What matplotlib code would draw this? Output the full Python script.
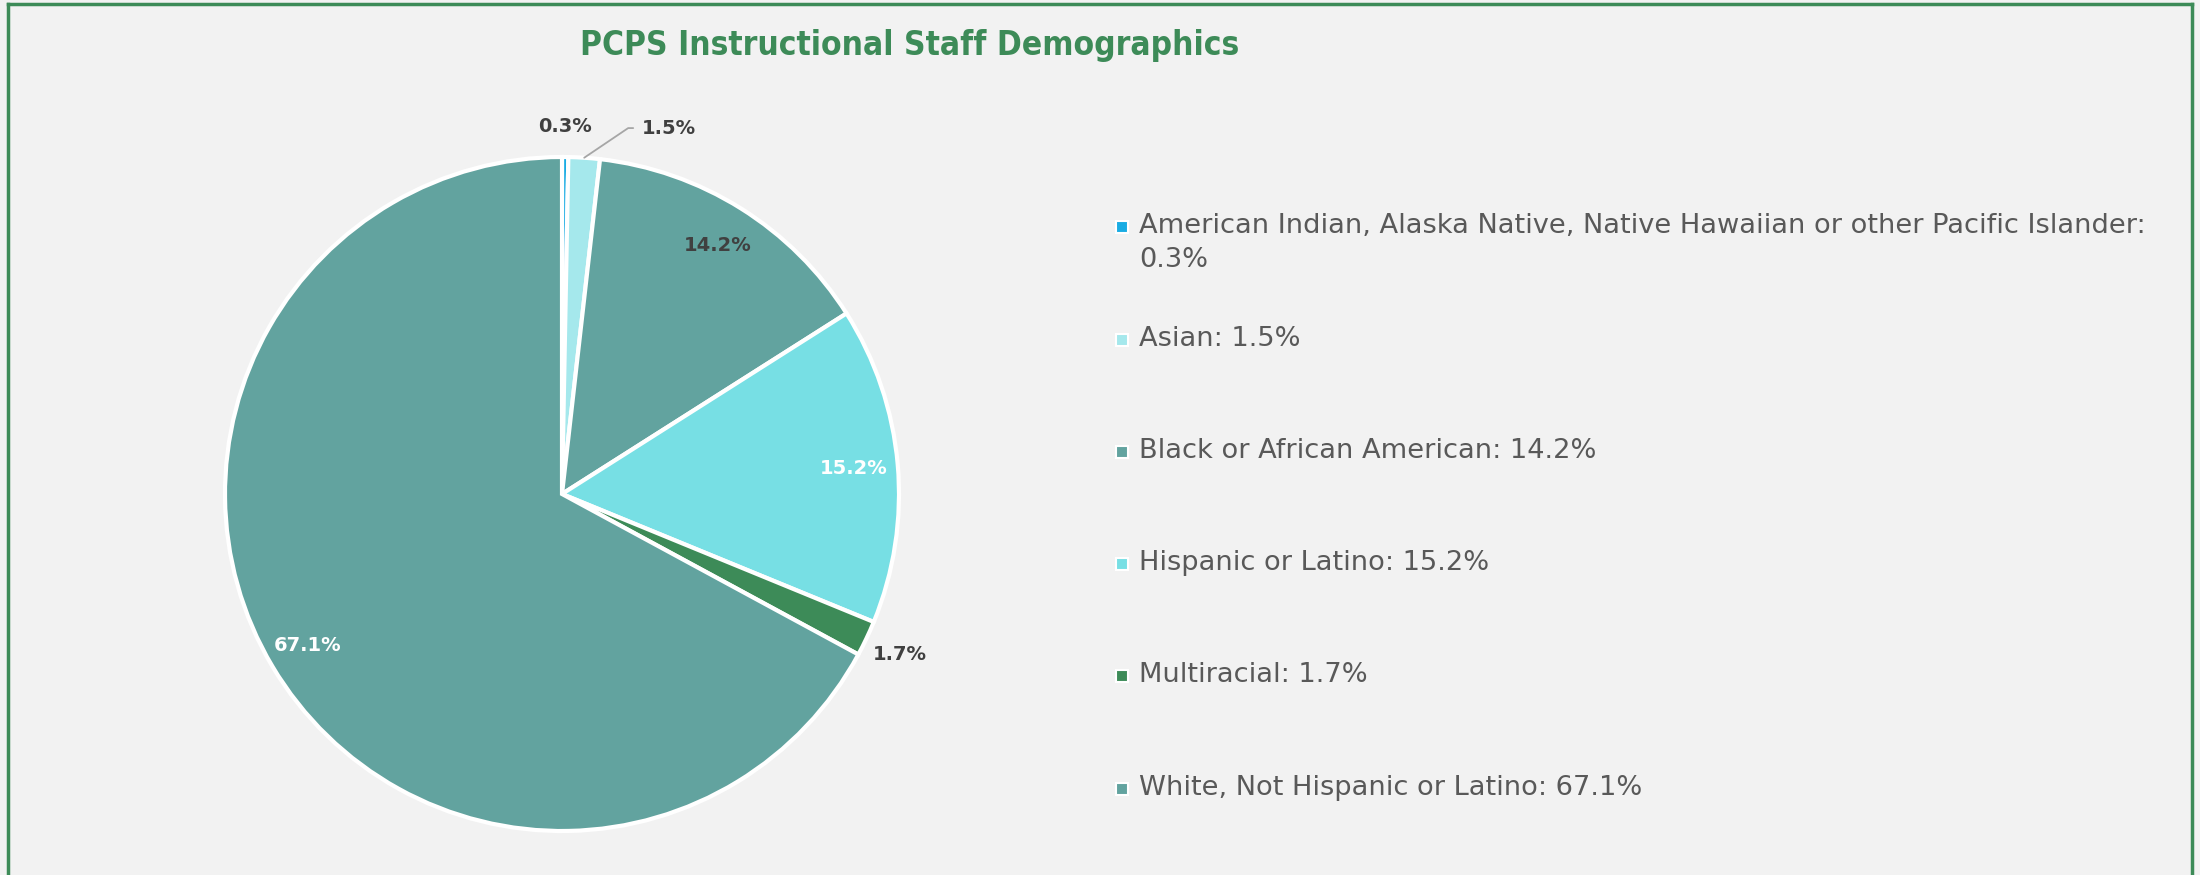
import numpy as np
import matplotlib
matplotlib.use("Agg")
import matplotlib.pyplot as plt
from matplotlib.patches import Rectangle

# Data
categories = [
    "American Indian, Alaska Native, Native Hawaiian or other Pacific Islander",
    "Asian",
    "Black or African American",
    "Hispanic or Latino",
    "Multiracial",
    "White, Not Hispanic or Latino",
]
legend_labels = [
    "American Indian, Alaska Native, Native Hawaiian or other Pacific Islander:\n0.3%",
    "Asian: 1.5%",
    "Black or African American: 14.2%",
    "Hispanic or Latino: 15.2%",
    "Multiracial: 1.7%",
    "White, Not Hispanic or Latino: 67.1%",
]
values = [0.3, 1.5, 14.2, 15.2, 1.7, 67.1]
colors = ["#1AACE3", "#A5E8EC", "#62A39F", "#77DFE4", "#3D8B58", "#62A39F"]
label_colors = ["#404040", "#404040", "#404040", "#FFFFFF", "#404040", "#FFFFFF"]
label_radius = [1.09, None, 0.87, 0.87, 1.11, 0.88]

W, H = 2200, 875
fig = plt.figure(figsize=(W / 100, H / 100), dpi=100)
fig.patch.set_facecolor("#F2F2F2")

TITLE_FONT = dict(family="DejaVu Sans", fontstretch="condensed")
BODY_FONT = dict(family="DejaVu Sans")

# Frame (top, left, right edges)
green = "#3D8B58"
fig.add_artist(plt.Line2D([8 / W, 8 / W], [0, 1 - 4 / H], color=green, lw=2.5, transform=fig.transFigure))
fig.add_artist(plt.Line2D([2192 / W, 2192 / W], [0, 1 - 4 / H], color=green, lw=2.5, transform=fig.transFigure))
fig.add_artist(plt.Line2D([8 / W, 2192 / W], [1 - 4 / H, 1 - 4 / H], color=green, lw=2.5, transform=fig.transFigure))

fig.text(910 / W, 1 - 45 / H, "PCPS Instructional Staff Demographics", ha="center", va="center",
         fontsize=24, fontweight="bold", color=green, **TITLE_FONT)

# Pie
cx, cy, r = 562, 494, 337
ax = fig.add_axes([(cx - r) / W, 1 - (cy + r) / H, 2 * r / W, 2 * r / H])
ax.set_facecolor("none")
wedges, _ = ax.pie(values, colors=colors, startangle=90, counterclock=False,
                   wedgeprops=dict(edgecolor="white", linewidth=3))
ax.set_xlim(-1, 1)
ax.set_ylim(-1, 1)
ax.axis("off")

for i, w in enumerate(wedges):
    mid = np.deg2rad((w.theta1 + w.theta2) / 2)
    txt = f"{values[i]:.1f}%"
    kw = dict(fontsize=14, fontweight="bold", color=label_colors[i], **BODY_FONT)
    if label_radius[i] is None:
        # small slice: label pulled out with a leader line
        x0, y0 = np.cos(mid), np.sin(mid)
        ax.annotate(txt, xy=(x0, y0), xytext=(x0 + 0.17, y0 + 0.088), ha="left", va="center",
                    annotation_clip=False,
                    arrowprops=dict(arrowstyle="-", color="#A6A6A6", lw=1.3,
                                    connectionstyle="angle,angleA=0,angleB=34,rad=0",
                                    shrinkA=4, shrinkB=0), **kw)
    else:
        rr = label_radius[i]
        ax.text(np.cos(mid) * rr, np.sin(mid) * rr, txt, ha="center", va="center", **kw)

# Legend
legend_y = [227, 340, 452, 564, 676, 789]
for lab, col, y in zip(legend_labels, colors, legend_y):
    fig.add_artist(Rectangle(((1122 - 6) / W, 1 - (y + 6) / H), 12 / W, 12 / H,
                             facecolor=col, edgecolor="white", lw=1.5, transform=fig.transFigure))
    fig.text(1139 / W, 1 - (y - 14) / H, lab, ha="left", va="top", fontsize=19.6, color="#595959",
             linespacing=1.4, **BODY_FONT)

fig.savefig("out.png", dpi=100, facecolor=fig.get_facecolor())
